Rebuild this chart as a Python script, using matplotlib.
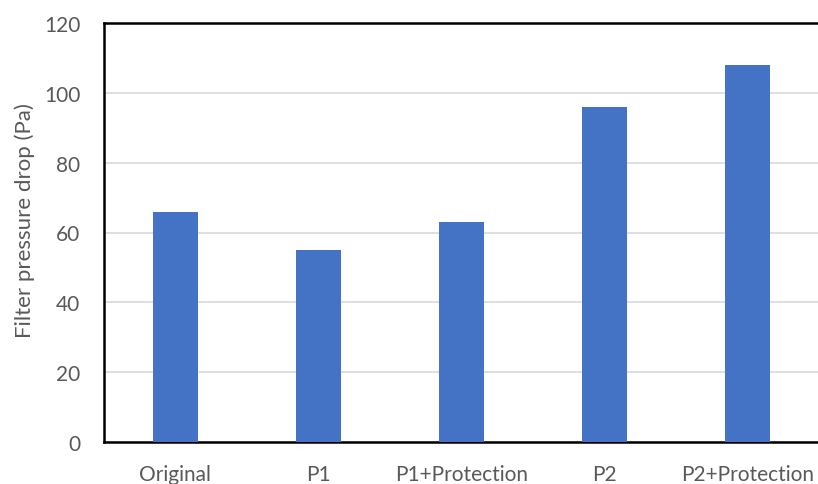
import matplotlib.pyplot as plt
import numpy as np

categories = ['Original', 'P1', 'P1+Protection', 'P2', 'P2+Protection']
pressure_drop = [66, 55, 63, 96, 108]
yticks = [0, 20, 40, 60, 80, 100, 120]

plt.rcParams['font.family'] = ['Lato', 'DejaVu Sans']
grey = '#595959'

fig = plt.figure(figsize=(8.18, 4.85), dpi=100)
ax = fig.add_axes([104 / 818, 1 - 443 / 485, 715 / 818, 419 / 485])

x = np.arange(len(categories))
ax.bar(x, pressure_drop, width=0.31, color='#4472c4', zorder=3)

ax.set_xlim(-0.5, len(categories) - 0.5)
ax.set_ylim(0, 120)
ax.set_yticks(yticks)
ax.set_xticks(x)
ax.set_xticklabels(categories)
ax.tick_params(axis='both', length=0, labelsize=15, labelcolor=grey)
ax.tick_params(axis='y', pad=17)
ax.tick_params(axis='x', pad=16)
ax.yaxis.grid(True, color='#d9d9d9', linewidth=1.2, zorder=0)

for s in ['left', 'bottom', 'top']:
    ax.spines[s].set_color('black')
    ax.spines[s].set_linewidth(1.8)
ax.spines['right'].set_visible(False)

ax.set_ylabel('Filter pressure drop (Pa)', fontsize=16, color=grey)
ax.yaxis.set_label_coords(-0.097, 0.53)

fig.savefig('out.png', dpi=100)
